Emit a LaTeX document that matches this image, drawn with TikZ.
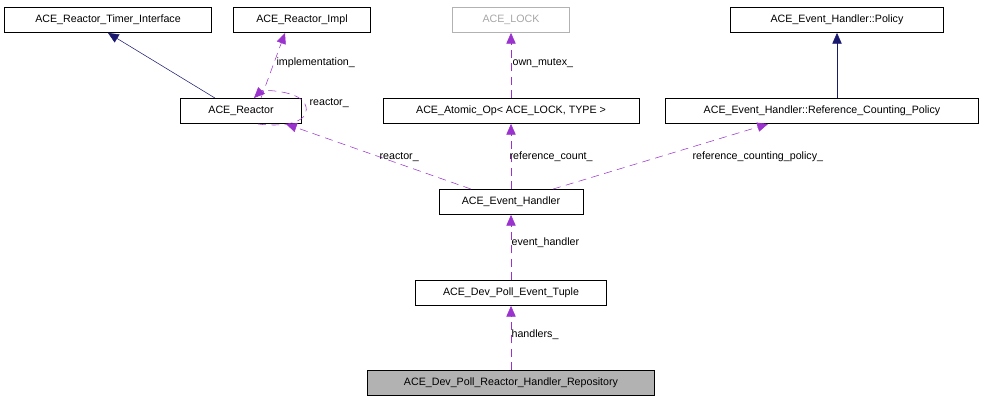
\documentclass[tikz,border=0pt]{standalone}
\usepackage{fontspec}
\setmainfont{Liberation Sans}
\usetikzlibrary{arrows.meta}
\definecolor{usecol}{HTML}{9A32CD}
\definecolor{inhcol}{HTML}{191970}
\begin{document}
\begin{tikzpicture} [
        x=0.75pt, y=-0.75pt,
        font=\fontsize{8pt}{9pt}\selectfont,
        classnode/.style={
            rectangle,
            draw,
            inner sep=1pt,
            minimum height=19pt
        },
        usearrow/.style={
            usecol,
            dashed,
            dash pattern=on 6pt off 4pt,
            -{Triangle[length=8pt,width=7pt]}
        },
        inharrow/.style={
            inhcol,
            -{Triangle[length=8pt,width=7pt]}
        },
        edgelabel/.style={
            anchor=west,
            inner sep=1pt
        }
    ]

        \useasboundingbox (0,0) rectangle (987,400);

        \node[classnode, minimum width=155pt] (timer)   at (108,20)  {ACE\_Reactor\_Timer\_Interface};
        \node[classnode, minimum width=103pt] (impl)    at (302,20)  {ACE\_Reactor\_Impl};
        \node[classnode, minimum width=88pt, draw=gray!60, text=gray!70] (lock) at (511,20) {ACE\_LOCK};
        \node[classnode, minimum width=160pt] (policy)  at (837,20)  {ACE\_Event\_Handler::Policy};

        \node[classnode, minimum width=91pt]  (reactor) at (241,111) {ACE\_Reactor};
        \node[classnode, minimum width=192pt] (atomic)  at (511,111) {ACE\_Atomic\_Op< ACE\_LOCK, TYPE >};
        \node[classnode, minimum width=235pt] (refpol)  at (822,111) {ACE\_Event\_Handler::Reference\_Counting\_Policy};

        \node[classnode, minimum width=108pt] (handler) at (511,202) {ACE\_Event\_Handler};
        \node[classnode, minimum width=143pt] (tuple)   at (511,293) {ACE\_Dev\_Poll\_Event\_Tuple};
        \node[classnode, minimum width=215pt, fill=gray!60] (repo) at (511,383) {ACE\_Dev\_Poll\_Reactor\_Handler\_Repository};

        % inheritance
        \draw[inharrow] (reactor.north) ++(-26,0) -- (timer.south);
        \draw[inharrow] (refpol.north -| policy.south) -- (policy.south);

        % usage
        \draw[usearrow] (reactor.north) ++(20,0) -- (285,33);
        \node[edgelabel] (implabel) at (275,63) {implementation\_};
        \draw[usearrow] (258,124) .. controls (290,128) and (312,120) .. (305,104) .. controls (298,90) and (262,90) .. (254,98);
        \node[edgelabel] (selflabel) at (308,103) {reactor\_};
        \draw[usearrow] (lock.south |- atomic.north) -- (lock.south);
        \node[edgelabel] (mutexlabel) at (511,63) {own\_mutex\_};
        \draw[usearrow] (handler.north) ++(-40,0) -- (286,124);
        \node[edgelabel] (reactlabel) at (378,157) {reactor\_};
        \draw[usearrow] (handler.north) -- (atomic.south);
        \node[edgelabel] (countlabel) at (508,157) {reference\_count\_};
        \draw[usearrow] (handler.north) ++(42,0) -- (768,124);
        \node[edgelabel] (pollabel) at (691,157) {reference\_counting\_policy\_};
        \draw[usearrow] (tuple.north) -- (handler.south);
        \node[edgelabel] (ehlabel) at (510,243) {event\_handler};
        \draw[usearrow] (repo.north) -- (tuple.south);
        \node[edgelabel] (hlabel) at (510,335) {handlers\_};

    \end{tikzpicture}
\end{document}
